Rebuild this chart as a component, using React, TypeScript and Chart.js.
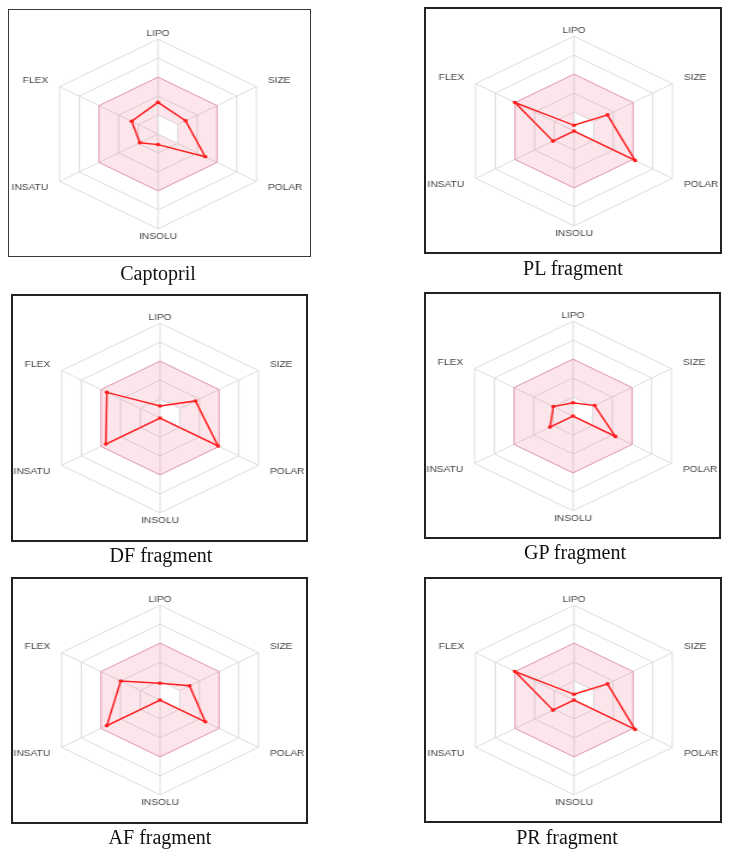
import React, { useEffect, useRef } from "react";
import { Chart, registerables } from "chart.js";
Chart.register(...registerables);

// ---- data ----
const axes = ["LIPO", "SIZE", "POLAR", "INSOLU", "INSATU", "FLEX"];
const optimalUpper = [3, 3, 3, 3, 3, 3];
const optimalLower = [1, 1, 1, 0, 0, 0];
const captopril = [1.67, 1.4, 2.4, 0.56, 0.92, 1.34];
const plFragment = [0.3, 1.7, 3.1, 0.0, 1.07, 3.0];
const dfFragment = [0.63, 1.8, 2.95, 0.0, 2.75, 2.7];
const gpFragment = [0.7, 1.1, 2.15, 0.0, 1.17, 1.0];
const afFragment = [0.88, 1.5, 2.3, 0.0, 2.7, 2.0];
const prFragment = [0.3, 1.7, 3.1, 0.0, 1.07, 3.0];
const captions = ["Captopril", "PL fragment", "DF fragment", "GP fragment", "AF fragment", "PR fragment"];
const seriesList = [captopril, plFragment, dfFragment, gpFragment, afFragment, prFragment];

// ---- layout (display px) ----
const panels = [
  { left: 8, top: 9, w: 303, h: 248, cx: 158, cy: 134, border: "1px solid #3a3a3a", capTop: 261, capX: 158 },
  { left: 424, top: 7, w: 298, h: 247, cx: 574, cy: 131, border: "2px solid #222", capTop: 256, capX: 573 },
  { left: 11, top: 294, w: 297, h: 248, cx: 160, cy: 418, border: "2px solid #222", capTop: 543, capX: 161 },
  { left: 424, top: 292, w: 297, h: 247, cx: 573, cy: 416, border: "2px solid #222", capTop: 540, capX: 575 },
  { left: 11, top: 577, w: 297, h: 247, cx: 160, cy: 700, border: "2px solid #222", capTop: 825, capX: 160 },
  { left: 424, top: 577, w: 298, h: 246, cx: 574, cy: 700, border: "2px solid #222", capTop: 825, capX: 567 },
];

const CW = 272;
const CH = 216;
const SX = 1.2;
const GRID = "#dcdcdc";
const LABEL_PAD = [0, 11, 11, 3, 11, 11];
const LABEL_LH = [1.2, 0.1, 0.1, 1.2, 0.1, 0.1];

function Radar({ values, cx, cy }: any) {
  const ref = useRef<HTMLCanvasElement>(null);
  useEffect(() => {
    const canvas = ref.current!;
    const chart = new Chart(canvas, {
      type: "radar",
      data: {
        labels: axes,
        datasets: [
          {
            data: values,
            borderColor: "#ff1f1f",
            borderWidth: 1.5,
            pointRadius: 1.8,
            pointBackgroundColor: "#ff1f1f",
            pointBorderWidth: 0,
            fill: false,
          },
          {
            data: optimalLower,
            borderColor: GRID,
            borderWidth: 1,
            pointRadius: 0,
            backgroundColor: "#ffffff",
            fill: "origin",
          },
          {
            data: optimalUpper,
            borderColor: "rgba(235,60,110,0.38)",
            borderWidth: 1,
            pointRadius: 0,
            backgroundColor: "rgba(235,40,100,0.12)",
            fill: "origin",
          },
        ],
      },
      options: {
        responsive: false,
        animation: false,
        devicePixelRatio: 1,
        layout: { padding: 0 },
        plugins: { legend: { display: false }, tooltip: { enabled: false } },
        scales: {
          r: {
            min: 0,
            max: 5,
            ticks: { display: false, stepSize: 1 },
            grid: { color: GRID, lineWidth: 1 },
            angleLines: { color: GRID, lineWidth: 1 },
            pointLabels: {
              color: "#444",
              font: (ctx: any) => ({
                family: "'Liberation Sans', Arial, sans-serif",
                size: 8.5,
                lineHeight: LABEL_LH[ctx.index],
              }),
              padding: (ctx: any) => LABEL_PAD[ctx.index],
            },
          },
        },
      },
    });
    const s: any = chart.scales.r;
    canvas.style.left = cx - s.xCenter * SX + "px";
    canvas.style.top = cy - s.yCenter + "px";
    return () => chart.destroy();
  }, []);
  return (
    <canvas
      ref={ref}
      width={CW}
      height={CH}
      style={{ position: "absolute", width: CW * SX + "px", height: CH + "px" }}
    />
  );
}

export default function App() {
  return (
    <div style={{ position: "absolute", left: 0, top: 0, width: 730, height: 856, background: "#fff", overflow: "hidden" }}>
      {panels.map((p, i) => (
        <React.Fragment key={i}>
          <Radar values={seriesList[i]} cx={p.cx} cy={p.cy} />
          <div
            style={{
              position: "absolute",
              left: p.left,
              top: p.top,
              width: p.w,
              height: p.h,
              border: p.border,
              boxSizing: "border-box",
              pointerEvents: "none",
            }}
          />
          <div
            style={{
              position: "absolute",
              left: p.capX - 100,
              width: 200,
              top: p.capTop,
              textAlign: "center",
              fontFamily: "'Liberation Serif', 'Times New Roman', serif",
              fontSize: 20,
              lineHeight: "24px",
              color: "#111",
            }}
          >
            {captions[i]}
          </div>
        </React.Fragment>
      ))}
    </div>
  );
}
